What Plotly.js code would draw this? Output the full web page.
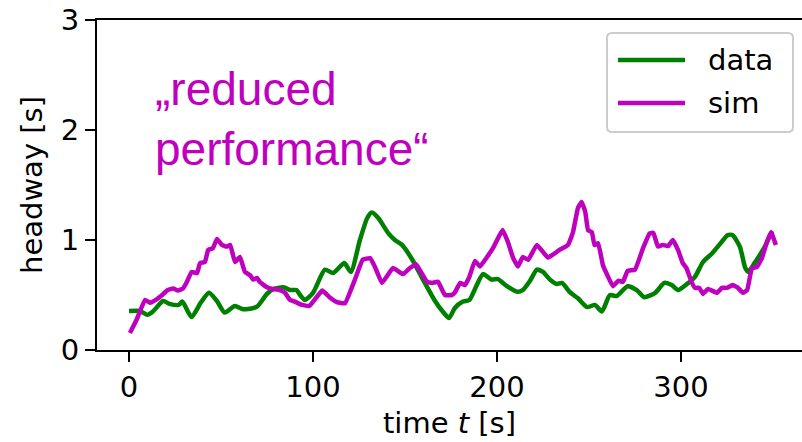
<!DOCTYPE html>
<html>
<head>
<meta charset="utf-8">
<script src="https://cdn.plot.ly/plotly-3.0.1.min.js"></script>
<style>html,body{margin:0;padding:0;background:#fff;}#chart{width:802px;height:442px;}</style>
</head>
<body>
<div id="chart"></div>
<script>
// measured data (time in s, headway in s)
const tData = [0, 6, 10, 13, 18.5, 22, 27, 29, 34, 39, 43.5, 48, 52, 57.5, 62, 67.5, 70, 75, 78, 84, 87.5, 91, 93, 95.6, 100, 106.5, 111, 117, 120.6, 125.5, 129.5, 132, 135.5, 141, 144.5, 148.4, 154, 159, 166, 170.5, 174, 177, 181.5, 185, 189, 192.4, 197, 200.5, 205.4, 211, 214, 218, 221.7, 225, 228.8, 232.6, 235.3, 239.7, 244, 249, 253.3, 257, 261.4, 265, 271, 276, 280, 286, 291, 295, 298.4, 304, 307.6, 312, 317, 322, 325.5, 328, 332, 335, 336.6, 340, 345.6, 349.5];
const hData = [0.355, 0.355, 0.32, 0.35, 0.445, 0.42, 0.41, 0.44, 0.30, 0.43, 0.52, 0.44, 0.34, 0.40, 0.37, 0.38, 0.40, 0.51, 0.55, 0.57, 0.545, 0.545, 0.50, 0.455, 0.52, 0.73, 0.70, 0.79, 0.71, 1.0, 1.20, 1.25, 1.20, 1.06, 1.0, 0.955, 0.82, 0.665, 0.455, 0.35, 0.29, 0.38, 0.44, 0.455, 0.59, 0.69, 0.64, 0.645, 0.58, 0.53, 0.545, 0.63, 0.73, 0.71, 0.64, 0.60, 0.61, 0.525, 0.47, 0.39, 0.41, 0.35, 0.50, 0.49, 0.58, 0.545, 0.48, 0.52, 0.61, 0.59, 0.545, 0.61, 0.665, 0.80, 0.88, 0.98, 1.045, 1.045, 0.94, 0.745, 0.71, 0.79, 0.94, 1.08];

const tSim = [0.5, 4, 8.7, 11.4, 15, 18, 21, 24, 26.6, 29.4, 31.5, 34, 37, 38.6, 41.3, 43, 45.6, 47.8, 50.5, 53, 55, 57.6, 60.3, 63, 65.8, 67.5, 69.6, 71, 75, 78, 82, 84.8, 87.5, 90, 94, 98, 105, 109, 113, 117.4, 123, 127, 131, 133.7, 137.5, 143.5, 149, 152.7, 156, 159, 162, 164.7, 168, 171.7, 175.5, 177, 180, 182.6, 185, 188, 190.8, 194.6, 198, 203, 206, 208.7, 211.4, 214, 217, 221.7, 227.7, 234, 238.6, 241.3, 244, 246, 248, 249.5, 251.6, 253, 255, 257.6, 260, 263, 266, 268.5, 271, 275, 279.5, 283, 285, 287.5, 290, 293, 295.6, 298.4, 301, 303, 306, 307.6, 310, 312, 314.7, 319.6, 322.3, 325, 328, 331, 333.7, 336, 338.6, 341.3, 344, 346.7, 349, 351.6];
const hSim = [0.155, 0.27, 0.455, 0.43, 0.46, 0.50, 0.545, 0.56, 0.54, 0.56, 0.62, 0.71, 0.70, 0.79, 0.80, 0.91, 0.925, 1.01, 0.955, 0.94, 0.955, 0.80, 0.845, 0.71, 0.68, 0.64, 0.655, 0.62, 0.57, 0.555, 0.545, 0.52, 0.455, 0.44, 0.41, 0.40, 0.54, 0.48, 0.435, 0.425, 0.65, 0.82, 0.835, 0.755, 0.61, 0.745, 0.69, 0.745, 0.78, 0.70, 0.62, 0.61, 0.62, 0.50, 0.50, 0.52, 0.61, 0.59, 0.665, 0.81, 0.76, 0.845, 0.93, 1.09, 0.98, 0.84, 0.76, 0.845, 0.82, 0.955, 0.84, 0.91, 0.955, 1.07, 1.29, 1.345, 1.255, 1.09, 1.07, 0.955, 0.97, 0.77, 0.68, 0.58, 0.63, 0.62, 0.72, 0.73, 0.93, 1.06, 1.065, 0.94, 0.955, 0.945, 1.0, 0.91, 0.79, 0.745, 0.61, 0.565, 0.565, 0.51, 0.555, 0.52, 0.565, 0.565, 0.59, 0.565, 0.52, 0.545, 0.745, 0.755, 0.835, 0.98, 1.07, 0.955];

const seriesNames = ["data", "sim"];
const seriesColors = ["#008000", "#bf00bf"];
const xTicks = [0, 100, 200, 300];
const yTicks = [0, 1, 2, 3];
const noteLines = ["„reduced", "performance“"];

const font = {family: "DejaVu Sans", size: 29, color: "#000"};

// plot-area geometry (pixels) for paper-coordinate helpers
const M = {l: 97, r: 0, t: 20, b: 92};
const W = 802, H = 442;
const pw = W - M.l - M.r, ph = H - M.t - M.b;
const px = x => (x - M.l) / pw;
const py = y => (H - M.b - y) / ph;

const traces = [
  {x: tData, y: hData, name: seriesNames[0], mode: "lines", showlegend: false,
   line: {color: seriesColors[0], width: 4.5, shape: "spline", smoothing: 0.6}},
  {x: tSim, y: hSim, name: seriesNames[1], mode: "lines", showlegend: false,
   line: {color: seriesColors[1], width: 4.5, shape: "spline", smoothing: 0.3}}
];

// legend frame (rounded) drawn in paper coords
const L = {x0: 607, x1: 793, y0: 33, y1: 132, r: 5};
const rx = L.r / pw, ry = L.r / ph;
const fx0 = px(L.x0), fx1 = px(L.x1), fyT = py(L.y0), fyB = py(L.y1);
const framePath = `M ${fx0 + rx} ${fyT} L ${fx1 - rx} ${fyT} Q ${fx1} ${fyT} ${fx1} ${fyT - ry} ` +
  `L ${fx1} ${fyB + ry} Q ${fx1} ${fyB} ${fx1 - rx} ${fyB} L ${fx0 + rx} ${fyB} Q ${fx0} ${fyB} ${fx0} ${fyB + ry} ` +
  `L ${fx0} ${fyT - ry} Q ${fx0} ${fyT} ${fx0 + rx} ${fyT} Z`;
const rowY = [60, 103];

const shapes = [
  {type: "path", xref: "paper", yref: "paper", path: framePath,
   line: {color: "#cccccc", width: 2}, fillcolor: "rgba(255,255,255,0.8)", layer: "above"}
];
const annotations = [
  {xref: "paper", yref: "paper", x: 0.0794, y: 0.70, xanchor: "left", yanchor: "middle",
   align: "left", showarrow: false,
   text: noteLines.join("<br>"),
   font: {family: "Liberation Sans", size: 46, color: "#bf00bf"}}
];
seriesNames.forEach((n, i) => {
  shapes.push({type: "line", xref: "paper", yref: "paper",
    x0: px(618), x1: px(685), y0: py(rowY[i]), y1: py(rowY[i]),
    line: {color: seriesColors[i], width: 4.5}, layer: "above"});
  annotations.push({xref: "paper", yref: "paper", x: px(706), y: py(rowY[i]),
    xanchor: "left", yanchor: "middle", showarrow: false, text: n, font: font});
});

const layout = {
  width: W, height: H,
  margin: {l: M.l, r: M.r, t: M.t, b: M.b, pad: 0},
  paper_bgcolor: "#fff", plot_bgcolor: "#fff",
  font: font,
  showlegend: false,
  xaxis: {range: [-17.4, 365.8], tickvals: xTicks, ticktext: xTicks.map(String),
          ticks: "outside", ticklen: 10, tickwidth: 2, tickcolor: "#000",
          showline: true, linewidth: 2, linecolor: "#000", mirror: true,
          showgrid: false, zeroline: false, tickfont: font,
          title: {text: "time <i>t</i> [s]", font: font, standoff: 10}},
  yaxis: {range: [0, 3], tickvals: yTicks, ticktext: yTicks.map(String),
          ticks: "outside", ticklen: 10, tickwidth: 2, tickcolor: "#000",
          showline: true, linewidth: 2, linecolor: "#000",
          showgrid: false, zeroline: false, tickfont: font,
          title: {text: "headway [s]", font: font, standoff: 10}},
  shapes: shapes,
  annotations: annotations
};

Plotly.newPlot("chart", traces, layout, {displayModeBar: false, staticPlot: true});
</script>
</body>
</html>
